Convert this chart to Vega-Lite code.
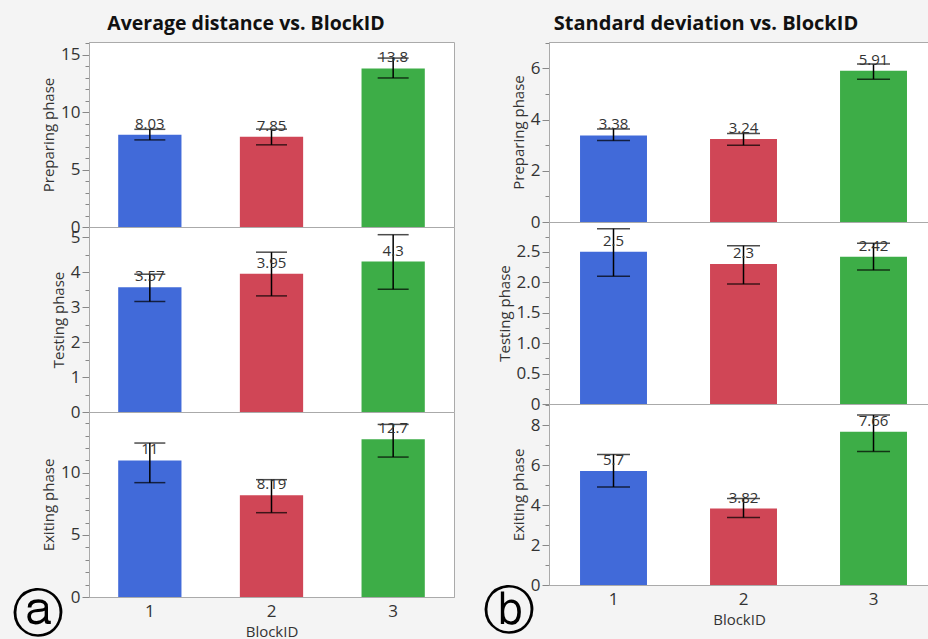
{
  "$schema": "https://vega.github.io/schema/vega-lite/v6.json",
  "background": "#f4f4f4",
  "padding": {"left": 11, "top": 14, "right": 0, "bottom": 0},
  "spacing": 27,
  "datasets": {
    "d": [
      {"stat": "avg", "phase": "Preparing phase", "BlockID": "1", "value": 8.03, "lo": 7.58, "hi": 8.5},
      {"stat": "avg", "phase": "Preparing phase", "BlockID": "2", "value": 7.85, "lo": 7.15, "hi": 8.52},
      {"stat": "avg", "phase": "Preparing phase", "BlockID": "3", "value": 13.8, "lo": 12.97, "hi": 14.7},
      {"stat": "avg", "phase": "Testing phase", "BlockID": "1", "value": 3.57, "lo": 3.16, "hi": 3.94},
      {"stat": "avg", "phase": "Testing phase", "BlockID": "2", "value": 3.95, "lo": 3.32, "hi": 4.57},
      {"stat": "avg", "phase": "Testing phase", "BlockID": "3", "value": 4.3, "lo": 3.51, "hi": 5.07},
      {"stat": "avg", "phase": "Exiting phase", "BlockID": "1", "value": 11, "lo": 9.21, "hi": 12.4},
      {"stat": "avg", "phase": "Exiting phase", "BlockID": "2", "value": 8.19, "lo": 6.79, "hi": 9.45},
      {"stat": "avg", "phase": "Exiting phase", "BlockID": "3", "value": 12.7, "lo": 11.27, "hi": 13.9},
      {"stat": "sd", "phase": "Preparing phase", "BlockID": "1", "value": 3.38, "lo": 3.18, "hi": 3.63},
      {"stat": "sd", "phase": "Preparing phase", "BlockID": "2", "value": 3.24, "lo": 3.0, "hi": 3.46},
      {"stat": "sd", "phase": "Preparing phase", "BlockID": "3", "value": 5.91, "lo": 5.58, "hi": 6.17},
      {"stat": "sd", "phase": "Testing phase", "BlockID": "1", "value": 2.5, "lo": 2.1, "hi": 2.88},
      {"stat": "sd", "phase": "Testing phase", "BlockID": "2", "value": 2.3, "lo": 1.97, "hi": 2.6},
      {"stat": "sd", "phase": "Testing phase", "BlockID": "3", "value": 2.42, "lo": 2.2, "hi": 2.64},
      {"stat": "sd", "phase": "Exiting phase", "BlockID": "1", "value": 5.7, "lo": 4.9, "hi": 6.53},
      {"stat": "sd", "phase": "Exiting phase", "BlockID": "2", "value": 3.82, "lo": 3.37, "hi": 4.32},
      {"stat": "sd", "phase": "Exiting phase", "BlockID": "3", "value": 7.66, "lo": 6.68, "hi": 8.5}
    ]
  },
  "hconcat": [
    {
      "title": {"text": "Average distance vs. BlockID", "fontSize": 19.5, "fontWeight": "bold", "font": "Open Sans", "color": "#111", "anchor": "middle", "dx": 13, "offset": 7},
      "spacing": 0,
      "bounds": "flush",
      "resolve": {"scale": {"x": "independent", "y": "independent"}},
      "vconcat": [
        {
          "width": 365, "height": 185,
          "data": {"name": "d"},
          "transform": [{"filter": "datum.stat === 'avg' && datum.phase === 'Preparing phase'"}],
          "encoding": {"x": {"field": "BlockID", "type": "nominal", "scale": {"paddingInner": 0.48, "paddingOuter": 0.24}, "axis": null}},
          "resolve": {"axis": {"y": "independent"}},
          "layer": [
            {"mark": {"type": "bar"}, "encoding": {
              "y": {"field": "value", "type": "quantitative", "scale": {"domain": [0, 16.1], "nice": false},
                "axis": {"title": "Preparing phase", "labelOverlap": false, "values": [0,1,2,3,4,5,6,7,8,9,10,11,12,13,14,15,16], "labelExpr": "datum.value % 5 === 0 ? format(datum.value, 'd') : ''", "labelFontSize": {"condition": {"test": "datum.value % 5 === 0", "value": 17}, "value": 1}, "tickSize": {"condition": {"test": "datum.value % 5 === 0", "value": 7}, "value": 4}}},
              "color": {"field": "BlockID", "type": "nominal", "scale": {"domain": ["1", "2", "3"], "range": ["#416ad9", "#d04656", "#3dad47"]}, "legend": null}}},
            {"mark": {"type": "rule", "color": "black", "strokeWidth": 1.5}, "encoding": {"y": {"field": "lo", "type": "quantitative", "axis": null}, "y2": {"field": "hi"}}},
            {"mark": {"type": "tick", "color": "black", "thickness": 1.5, "size": 31}, "encoding": {"y": {"field": "lo", "type": "quantitative", "axis": null}}},
            {"mark": {"type": "tick", "color": "black", "thickness": 1.5, "size": 31}, "encoding": {"y": {"field": "hi", "type": "quantitative", "axis": null}}},
            {"mark": {"type": "text", "dy": -3, "baseline": "bottom", "fontSize": 15, "font": "Open Sans", "color": "#333"}, "encoding": {"y": {"field": "value", "type": "quantitative", "axis": null}, "text": {"field": "value", "type": "nominal"}}}
          ]
        },
        {
          "width": 365, "height": 185,
          "data": {"name": "d"},
          "transform": [{"filter": "datum.stat === 'avg' && datum.phase === 'Testing phase'"}],
          "encoding": {"x": {"field": "BlockID", "type": "nominal", "scale": {"paddingInner": 0.48, "paddingOuter": 0.24}, "axis": null}},
          "resolve": {"axis": {"y": "independent"}},
          "layer": [
            {"mark": {"type": "bar"}, "encoding": {
              "y": {"field": "value", "type": "quantitative", "scale": {"domain": [0, 5.29], "nice": false},
                "axis": {"title": "Testing phase", "labelOverlap": false, "values": [0,0.5,1,1.5,2,2.5,3,3.5,4,4.5,5], "labelExpr": "datum.value % 1 === 0 ? format(datum.value, 'd') : ''", "labelFontSize": {"condition": {"test": "datum.value % 1 === 0", "value": 17}, "value": 1}, "tickSize": {"condition": {"test": "datum.value % 1 === 0", "value": 7}, "value": 4}}},
              "color": {"field": "BlockID", "type": "nominal", "scale": {"domain": ["1", "2", "3"], "range": ["#416ad9", "#d04656", "#3dad47"]}, "legend": null}}},
            {"mark": {"type": "rule", "color": "black", "strokeWidth": 1.5}, "encoding": {"y": {"field": "lo", "type": "quantitative", "axis": null}, "y2": {"field": "hi"}}},
            {"mark": {"type": "tick", "color": "black", "thickness": 1.5, "size": 31}, "encoding": {"y": {"field": "lo", "type": "quantitative", "axis": null}}},
            {"mark": {"type": "tick", "color": "black", "thickness": 1.5, "size": 31}, "encoding": {"y": {"field": "hi", "type": "quantitative", "axis": null}}},
            {"mark": {"type": "text", "dy": -3, "baseline": "bottom", "fontSize": 15, "font": "Open Sans", "color": "#333"}, "encoding": {"y": {"field": "value", "type": "quantitative", "axis": null}, "text": {"field": "value", "type": "nominal"}}}
          ]
        },
        {
          "width": 365, "height": 185,
          "title": {"text": "ⓐ", "orient": "bottom", "anchor": "start", "frame": "group", "fontSize": 52, "fontWeight": "normal", "font": "DejaVu Sans", "color": "black", "dx": -77, "dy": -53},
          "data": {"name": "d"},
          "transform": [{"filter": "datum.stat === 'avg' && datum.phase === 'Exiting phase'"}],
          "encoding": {"x": {"field": "BlockID", "type": "nominal", "scale": {"paddingInner": 0.48, "paddingOuter": 0.24}, "axis": {"title": "BlockID", "labelAngle": 0, "ticks": false, "labelPadding": 6, "titlePadding": 5}}},
          "resolve": {"axis": {"y": "independent"}},
          "layer": [
            {"mark": {"type": "bar"}, "encoding": {
              "y": {"field": "value", "type": "quantitative", "scale": {"domain": [0, 14.9], "nice": false},
                "axis": {"title": "Exiting phase", "labelOverlap": false, "values": [0,1,2,3,4,5,6,7,8,9,10,11,12,13,14], "labelExpr": "datum.value % 5 === 0 ? format(datum.value, 'd') : ''", "labelFontSize": {"condition": {"test": "datum.value % 5 === 0", "value": 17}, "value": 1}, "tickSize": {"condition": {"test": "datum.value % 5 === 0", "value": 7}, "value": 4}}},
              "color": {"field": "BlockID", "type": "nominal", "scale": {"domain": ["1", "2", "3"], "range": ["#416ad9", "#d04656", "#3dad47"]}, "legend": null}}},
            {"mark": {"type": "rule", "color": "black", "strokeWidth": 1.5}, "encoding": {"y": {"field": "lo", "type": "quantitative", "axis": null}, "y2": {"field": "hi"}}},
            {"mark": {"type": "tick", "color": "black", "thickness": 1.5, "size": 31}, "encoding": {"y": {"field": "lo", "type": "quantitative", "axis": null}}},
            {"mark": {"type": "tick", "color": "black", "thickness": 1.5, "size": 31}, "encoding": {"y": {"field": "hi", "type": "quantitative", "axis": null}}},
            {"mark": {"type": "text", "dy": -3, "baseline": "bottom", "fontSize": 15, "font": "Open Sans", "color": "#333"}, "encoding": {"y": {"field": "value", "type": "quantitative", "axis": null}, "text": {"field": "value", "type": "nominal"}}}
          ]
        }
      ]
    },
    {
      "title": {"text": "Standard deviation vs. BlockID", "fontSize": 20, "fontWeight": "bold", "font": "Open Sans", "color": "#111", "anchor": "middle", "dx": 0, "offset": 7},
      "spacing": 0,
      "bounds": "flush",
      "resolve": {"scale": {"x": "independent", "y": "independent"}},
      "vconcat": [
        {
          "width": 380, "height": 180,
          "data": {"name": "d"},
          "transform": [{"filter": "datum.stat === 'sd' && datum.phase === 'Preparing phase'"}],
          "encoding": {"x": {"field": "BlockID", "type": "nominal", "scale": {"paddingInner": 0.485, "paddingOuter": 0.204, "align": 0.585}, "axis": null}},
          "resolve": {"axis": {"y": "independent"}},
          "layer": [
            {"mark": {"type": "bar"}, "encoding": {
              "y": {"field": "value", "type": "quantitative", "scale": {"domain": [0, 7.03], "nice": false},
                "axis": {"title": "Preparing phase", "labelOverlap": false, "values": [0,1,2,3,4,5,6,7], "labelExpr": "datum.value % 2 === 0 ? format(datum.value, 'd') : ''", "labelFontSize": {"condition": {"test": "datum.value % 2 === 0", "value": 17}, "value": 1}, "tickSize": {"condition": {"test": "datum.value % 2 === 0", "value": 7}, "value": 4}}},
              "color": {"field": "BlockID", "type": "nominal", "scale": {"domain": ["1", "2", "3"], "range": ["#416ad9", "#d04656", "#3dad47"]}, "legend": null}}},
            {"mark": {"type": "rule", "color": "black", "strokeWidth": 1.5}, "encoding": {"y": {"field": "lo", "type": "quantitative", "axis": null}, "y2": {"field": "hi"}}},
            {"mark": {"type": "tick", "color": "black", "thickness": 1.5, "size": 33}, "encoding": {"y": {"field": "lo", "type": "quantitative", "axis": null}}},
            {"mark": {"type": "tick", "color": "black", "thickness": 1.5, "size": 33}, "encoding": {"y": {"field": "hi", "type": "quantitative", "axis": null}}},
            {"mark": {"type": "text", "dy": -3, "baseline": "bottom", "fontSize": 15, "font": "Open Sans", "color": "#333"}, "encoding": {"y": {"field": "value", "type": "quantitative", "axis": null}, "text": {"field": "value", "type": "nominal"}}}
          ]
        },
        {
          "width": 380, "height": 182,
          "data": {"name": "d"},
          "transform": [{"filter": "datum.stat === 'sd' && datum.phase === 'Testing phase'"}],
          "encoding": {"x": {"field": "BlockID", "type": "nominal", "scale": {"paddingInner": 0.485, "paddingOuter": 0.204, "align": 0.585}, "axis": null}},
          "resolve": {"axis": {"y": "independent"}},
          "layer": [
            {"mark": {"type": "bar"}, "encoding": {
              "y": {"field": "value", "type": "quantitative", "scale": {"domain": [0, 2.99], "nice": false},
                "axis": {"title": "Testing phase", "labelOverlap": false, "values": [0,0.25,0.5,0.75,1,1.25,1.5,1.75,2,2.25,2.5,2.75], "labelExpr": "datum.value === 0 ? '0' : (datum.value % 0.5 === 0 ? format(datum.value, '.1f') : '')", "labelFontSize": {"condition": {"test": "datum.value % 0.5 === 0", "value": 17}, "value": 1}, "tickSize": {"condition": {"test": "datum.value % 0.5 === 0", "value": 7}, "value": 4}}},
              "color": {"field": "BlockID", "type": "nominal", "scale": {"domain": ["1", "2", "3"], "range": ["#416ad9", "#d04656", "#3dad47"]}, "legend": null}}},
            {"mark": {"type": "rule", "color": "black", "strokeWidth": 1.5}, "encoding": {"y": {"field": "lo", "type": "quantitative", "axis": null}, "y2": {"field": "hi"}}},
            {"mark": {"type": "tick", "color": "black", "thickness": 1.5, "size": 33}, "encoding": {"y": {"field": "lo", "type": "quantitative", "axis": null}}},
            {"mark": {"type": "tick", "color": "black", "thickness": 1.5, "size": 33}, "encoding": {"y": {"field": "hi", "type": "quantitative", "axis": null}}},
            {"mark": {"type": "text", "dy": -3, "baseline": "bottom", "fontSize": 15, "font": "Open Sans", "color": "#333"}, "encoding": {"y": {"field": "value", "type": "quantitative", "axis": null}, "text": {"field": "value", "type": "nominal"}}}
          ]
        },
        {
          "width": 380, "height": 181,
          "title": {"text": "ⓑ", "orient": "bottom", "anchor": "start", "frame": "group", "fontSize": 52, "fontWeight": "normal", "font": "DejaVu Sans", "color": "black", "dx": -66, "dy": -44},
          "data": {"name": "d"},
          "transform": [{"filter": "datum.stat === 'sd' && datum.phase === 'Exiting phase'"}],
          "encoding": {"x": {"field": "BlockID", "type": "nominal", "scale": {"paddingInner": 0.485, "paddingOuter": 0.204, "align": 0.585}, "axis": {"title": "BlockID", "labelAngle": 0, "ticks": false, "labelPadding": 6, "titlePadding": 5}}},
          "resolve": {"axis": {"y": "independent"}},
          "layer": [
            {"mark": {"type": "bar"}, "encoding": {
              "y": {"field": "value", "type": "quantitative", "scale": {"domain": [0, 9.05], "nice": false},
                "axis": {"title": "Exiting phase", "labelOverlap": false, "values": [0,1,2,3,4,5,6,7,8,9], "labelExpr": "datum.value % 2 === 0 ? format(datum.value, 'd') : ''", "labelFontSize": {"condition": {"test": "datum.value % 2 === 0", "value": 17}, "value": 1}, "tickSize": {"condition": {"test": "datum.value % 2 === 0", "value": 7}, "value": 4}}},
              "color": {"field": "BlockID", "type": "nominal", "scale": {"domain": ["1", "2", "3"], "range": ["#416ad9", "#d04656", "#3dad47"]}, "legend": null}}},
            {"mark": {"type": "rule", "color": "black", "strokeWidth": 1.5}, "encoding": {"y": {"field": "lo", "type": "quantitative", "axis": null}, "y2": {"field": "hi"}}},
            {"mark": {"type": "tick", "color": "black", "thickness": 1.5, "size": 33}, "encoding": {"y": {"field": "lo", "type": "quantitative", "axis": null}}},
            {"mark": {"type": "tick", "color": "black", "thickness": 1.5, "size": 33}, "encoding": {"y": {"field": "hi", "type": "quantitative", "axis": null}}},
            {"mark": {"type": "text", "dy": -3, "baseline": "bottom", "fontSize": 15, "font": "Open Sans", "color": "#333"}, "encoding": {"y": {"field": "value", "type": "quantitative", "axis": null}, "text": {"field": "value", "type": "nominal"}}}
          ]
        }
      ]
    }
  ],
  "config": {
    "view": {"stroke": "#aaaaaa", "fill": "white"},
    "axis": {"labelFont": "Open Sans", "labelFontSize": 17, "labelColor": "#333", "titleFont": "Open Sans", "titleFontSize": 15, "titleFontWeight": "normal", "titleColor": "#333", "tickColor": "#888", "domainColor": "#aaaaaa", "labelPadding": 2, "titlePadding": 4, "labelOverlap": false, "grid": false}
  }
}
